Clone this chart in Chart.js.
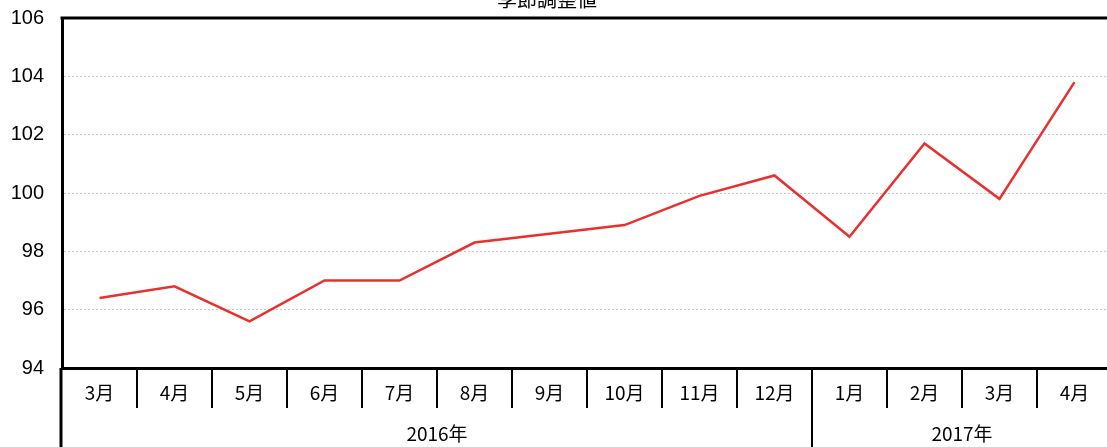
<!DOCTYPE html>
<html>
<head>
<meta charset="utf-8">
<script src="https://cdn.jsdelivr.net/npm/chart.js@4/dist/chart.umd.min.js"></script>
<style>
    html, body { margin: 0; padding: 0; background: #fff; overflow: hidden; }
    #wrap { position: relative; width: 1115px; height: 447px; overflow: hidden; }
    #myChart { position: absolute; left: 0; top: -12px; }
</style>
</head>
<body>
<div id="wrap">
    <canvas id="myChart" width="1115" height="459"></canvas>
</div>
<script>
    var chartTitle = "季節調整値";
    var months = ["3月", "4月", "5月", "6月", "7月", "8月", "9月", "10月", "11月", "12月", "1月", "2月", "3月", "4月"];
    var years = ["2016年", "2017年"];
    var monthsPerYear = [10, 4];
    var values = [96.4, 96.8, 95.6, 97.0, 97.0, 98.3, 98.6, 98.9, 99.9, 100.6, 98.5, 101.7, 99.8, 103.8];
    var yTicks = [94, 96, 98, 100, 102, 104, 106];

    var jpFont = "'Noto Sans CJK JP', 'Liberation Sans', sans-serif";

    // month separators, year groups, top border and title
    var axisExtras = {
        id: "axisExtras",
        afterDraw: function (chart) {
            var ctx = chart.ctx;
            var x = chart.scales.x;
            var area = chart.chartArea;
            var h = chart.height;
            var half = (x.getPixelForValue(1) - x.getPixelForValue(0)) / 2;

            ctx.save();
            ctx.strokeStyle = "#000";

            // top border
            ctx.lineWidth = 3;
            ctx.beginPath();
            ctx.moveTo(area.left - 1.5, area.top);
            ctx.lineTo(area.right, area.top);
            ctx.stroke();

            // left axis continues down through the category rows
            ctx.beginPath();
            ctx.moveTo(area.left - 1, area.bottom);
            ctx.lineTo(area.left - 1, h);
            ctx.stroke();

            // month separators
            ctx.lineWidth = 2;
            var yearEnds = [];
            var acc = 0;
            for (var k = 0; k < monthsPerYear.length; k++) {
                acc += monthsPerYear[k];
                yearEnds.push(acc);
            }
            for (var i = 1; i < months.length; i++) {
                var bx = Math.round(x.getPixelForValue(i) - half);
                var isYear = yearEnds.indexOf(i) >= 0;
                ctx.beginPath();
                ctx.moveTo(bx, area.bottom);
                ctx.lineTo(bx, isYear ? h : area.bottom + 40);
                ctx.stroke();
            }

            // year labels
            ctx.fillStyle = "#000";
            ctx.font = "19px " + jpFont;
            ctx.textAlign = "center";
            ctx.textBaseline = "middle";
            var start = 0;
            for (var j = 0; j < years.length; j++) {
                var end = start + monthsPerYear[j] - 1;
                var cx = (x.getPixelForValue(start) - half + x.getPixelForValue(end) + half) / 2;
                ctx.fillText(years[j], cx, area.bottom + 66);
                start = end + 1;
            }

            // title, partly hidden above the top edge like the original
            ctx.font = "20px " + jpFont;
            ctx.fillText(chartTitle, 547, 11);
            ctx.restore();
        }
    };

    var ctx = document.getElementById("myChart").getContext("2d");
    var chart = new Chart(ctx, {
        type: "line",
        data: {
            labels: months,
            datasets: [{
                data: values,
                borderColor: "#e8312f",
                borderWidth: 2.5,
                pointRadius: 0,
                tension: 0,
                fill: false
            }]
        },
        options: {
            responsive: false,
            animation: false,
            devicePixelRatio: 1,
            layout: { padding: { top: 6, right: 3, left: 0, bottom: 0 } },
            plugins: {
                legend: { display: false },
                tooltip: { enabled: false },
                title: { display: false }
            },
            scales: {
                x: {
                    offset: true,
                    grid: { display: false, drawTicks: false },
                    border: { display: true, color: "#000", width: 3 },
                    ticks: {
                        color: "#000",
                        font: { size: 19, family: jpFont },
                        padding: 13,
                        maxRotation: 0,
                        autoSkip: false
                    },
                    afterFit: function (scale) { scale.height = 79; }
                },
                y: {
                    min: 94,
                    max: 106,
                    afterBuildTicks: function (scale) {
                        scale.ticks = yTicks.map(function (v) { return { value: v }; });
                    },
                    grid: {
                        color: function (c) {
                            return (c.tick && (c.tick.value === 94 || c.tick.value === 106)) ? "rgba(0,0,0,0)" : "#c8c8c8";
                        },
                        lineWidth: 1,
                        drawTicks: false
                    },
                    border: { display: true, color: "#000", width: 3, dash: [2, 2] },
                    ticks: {
                        color: "#000",
                        font: { size: 20, family: "'Liberation Sans', sans-serif" },
                        padding: 18,
                        autoSkip: false
                    },
                    afterFit: function (scale) { scale.width = 62; }
                }
            }
        },
        plugins: [axisExtras]
    });
</script>
</body>
</html>
